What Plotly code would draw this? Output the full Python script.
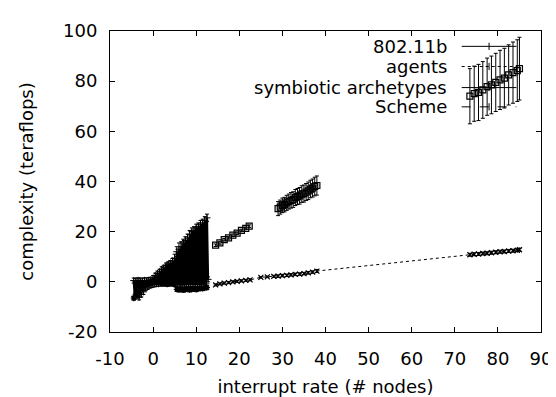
import plotly.graph_objects as go

# ---------------- data ----------------
# 802.11b : dense cluster near the origin (values alternate between upper and lower edge)
b_x = [-4.5, -4.25, -4.0, -3.75, -3.5, -3.25, -3.0, -2.75, -2.5, -2.25, -2.0, -1.75, -1.5, -1.25,
       -1.0, -0.75, -0.5, -0.25, 0.0, 0.25, 0.5, 0.75, 1.0, 1.25, 1.5, 1.75, 2.0, 2.25, 2.5, 2.75,
       3.0, 3.25, 3.5, 3.75, 4.0, 4.25, 4.5, 4.75, 5.0, 5.25, 5.5, 5.75, 6.0, 6.25, 6.5, 6.75,
       7.0, 7.25, 7.5, 7.75, 8.0, 8.25, 8.5, 8.75, 9.0, 9.25, 9.5, 9.75, 10.0, 10.25, 10.5, 10.75,
       11.0, 11.25, 11.5, 11.75, 12.0, 12.25, 12.5, 12.75]
b_y = [0.5, -6.0, 0.4, -5.5, 0.6, -6.2, 0.5, -5.0, 0.4, -4.0, 0.6, -2.5, 0.5, -2.0,
       0.7, -1.5, 0.8, -1.2, 1.5, -1.0, 2.5, -0.8, 3.3, -0.8, 4.0, -0.6, 5.0, -0.7, 5.6, -0.5,
       6.5, -0.8, 7.0, -0.6, 7.5, -0.5, 8.3, -0.7, 9.5, -1.0, 12.0, -1.2, 13.0, -1.0, 14.0, -1.3,
       15.5, -1.0, 16.5, -1.2, 17.5, -0.8, 19.0, -1.0, 20.0, -0.9, 20.5, -1.1, 21.5, -0.8, 22.0, -1.0,
       23.0, -0.9, 23.5, -1.0, 24.5, -0.8, 25.5, 1.0]
b_err = [1.0, 1.0, 1.0, 1.0, 1.0, 1.0, 1.0, 1.0, 1.0, 1.0, 1.0, 1.0, 1.0, 1.0,
         1.0, 1.0, 1.0, 1.0, 1.0, 1.0, 1.0, 1.0, 1.0, 1.0, 1.0, 1.0, 1.0, 1.0, 1.0, 1.0,
         1.0, 1.0, 1.0, 1.0, 1.0, 1.0, 1.0, 1.0, 1.5, 1.0, 2.0, 1.0, 2.5, 1.0, 2.0, 1.0,
         1.5, 1.0, 1.5, 1.0, 1.5, 1.0, 1.5, 1.0, 1.5, 1.0, 1.5, 1.0, 1.5, 1.0, 1.5, 1.0,
         1.5, 1.0, 1.5, 1.0, 1.5, 1.0, 1.5, 1.0]

# agents : long shallow series
a_x = [14.5, 15.5, 16.5, 17.5, 18.5, 19.5, 20.5, 21.5, 22.5, 25.0, 26.5, 28.0,
       29.0, 30.0, 31.0, 32.0, 33.0, 34.0, 35.0, 36.0, 37.0, 38.0,
       73.5, 74.5, 75.5, 76.5, 77.5, 78.5, 79.5, 80.5, 81.5, 82.5, 83.5, 84.5, 85.0]
a_y = [-1.2, -0.8, -0.5, -0.3, 0.0, 0.2, 0.4, 0.6, 0.8, 1.8, 2.0, 2.2,
       2.3, 2.5, 2.6, 2.8, 3.0, 3.1, 3.3, 3.6, 3.9, 4.3,
       10.8, 11.0, 11.1, 11.3, 11.4, 11.6, 11.8, 12.0, 12.1, 12.3, 12.4, 12.6, 12.8]
a_err = [0.4, 0.4, 0.4, 0.4, 0.4, 0.4, 0.4, 0.4, 0.4, 0.3, 0.3, 0.4,
         0.5, 0.5, 0.5, 0.5, 0.5, 0.5, 0.5, 0.5, 0.5, 0.6,
         0.6, 0.6, 0.6, 0.6, 0.6, 0.6, 0.6, 0.6, 0.6, 0.6, 0.6, 0.6, 0.6]

# symbiotic archetypes : steep series with growing error
s_x = [14.5, 15.5, 16.5, 17.5, 18.5, 19.5, 20.5, 21.5, 22.3,
       29.0, 29.5, 30.0, 30.5, 31.0, 31.5, 32.0, 32.5, 33.0, 33.5, 34.0, 34.5, 35.0, 35.5,
       36.0, 36.5, 37.0, 37.5, 38.0,
       73.5, 74.5, 75.5, 76.5, 77.5, 78.5, 79.5, 80.5, 81.5, 82.5, 83.5, 84.5, 85.0]
s_y = [14.6, 15.5, 16.8, 17.5, 18.6, 19.4, 20.5, 21.3, 22.2,
       29.2, 29.8, 30.5, 30.8, 31.5, 32.0, 32.5, 32.8, 33.6, 34.0, 34.3, 35.0, 35.2, 35.8,
       36.3, 37.0, 37.4, 38.0, 38.4,
       74.0, 75.0, 75.5, 76.5, 77.8, 78.5, 79.5, 80.5, 81.2, 82.5, 83.4, 84.2, 85.0]
s_err = [0.5, 0.5, 0.5, 0.5, 0.5, 0.5, 0.5, 0.5, 0.5,
         2.8, 2.8, 2.9, 2.9, 3.0, 3.0, 3.1, 3.1, 3.2, 3.2, 3.3, 3.3, 3.4, 3.4,
         3.5, 3.5, 3.6, 3.7, 3.8,
         11.0, 11.0, 11.2, 11.3, 11.4, 11.5, 11.6, 11.8, 11.9, 12.0, 12.2, 12.3, 12.5]

# Scheme : low cluster
c_x = [-4.5, -4.0, -3.5, -3.0, -2.5, -2.0, -1.5, -1.0, -0.5, 0.0, 1.0, 2.0, 3.0, 4.0, 5.0,
       5.5, 6.0, 6.5, 7.0, 7.5, 8.0, 8.5, 9.0, 9.5, 10.0, 10.5, 11.0, 11.5, 12.0, 12.5]
c_y = [-6.5, -5.0, -4.0, -2.5, -1.8, -1.2, -0.8, -0.5, -0.3, 0.0, -0.3, -0.5, -0.8, -0.7, -1.0,
       -3.0, -3.2, -3.0, -3.3, -3.1, -2.9, -3.2, -3.0, -2.8, -3.1, -2.8, -2.6, -2.7, -2.4, -2.3]
c_err = [0.8, 0.8, 0.8, 0.8, 0.8, 0.8, 0.8, 0.8, 0.8, 0.8, 0.8, 0.8, 0.8, 0.8, 0.8,
         0.8, 0.8, 0.8, 0.8, 0.8, 0.8, 0.8, 0.8, 0.8, 0.8, 0.8, 0.8, 0.8, 0.8, 0.8]

names = ["802.11b", "agents", "symbiotic archetypes", "Scheme"]
dashes = ["solid", "dot", "solid", "dash"]

x_tickvals = [-10, 0, 10, 20, 30, 40, 50, 60, 70, 80, 90]
x_ticktext = ["-10", "0", "10", "20", "30", "40", "50", "60", "70", "80", "90"]
y_tickvals = [-20, 0, 20, 40, 60, 80, 100]
y_ticktext = ["-20", "0", "20", "40", "60", "80", "100"]

FONT = "DejaVu Sans, Liberation Sans, Arial, sans-serif"
FS = 18

fig = go.Figure()


def err(arr):
    return dict(type="data", array=arr, visible=True, color="black", thickness=1, width=2)


fig.add_trace(go.Scatter(x=b_x, y=b_y, mode="lines+markers", showlegend=False,
                         line=dict(color="black", width=2.2, dash=dashes[0]),
                         marker=dict(symbol="cross-thin", size=5, line=dict(color="black", width=1)),
                         error_y=err(b_err)))
fig.add_trace(go.Scatter(x=a_x, y=a_y, mode="lines+markers", showlegend=False,
                         line=dict(color="black", width=1, dash=dashes[1]),
                         marker=dict(symbol="x-thin", size=5, line=dict(color="black", width=1.2)),
                         error_y=err(a_err)))
fig.add_trace(go.Scatter(x=s_x, y=s_y, mode="markers", showlegend=False,
                         marker=dict(symbol="square-open", size=6, color="black",
                                     line=dict(color="black", width=1.2)),
                         error_y=err(s_err)))
fig.add_trace(go.Scatter(x=c_x, y=c_y, mode="lines+markers", showlegend=False,
                         line=dict(color="black", width=1.2, dash=dashes[3]),
                         marker=dict(symbol="asterisk-open", size=5, line=dict(color="black", width=1.2)),
                         error_y=err(c_err)))

# ---------------- key (gnuplot style: text left, sample right) ----------------
key_y = [0.949, 0.882, 0.812, 0.748]
shapes = []
annotations = []
for nm, ds, ky in zip(names, dashes, key_y):
    annotations.append(dict(xref="paper", yref="paper", x=0.787, y=ky, text=nm,
                            showarrow=False, xanchor="right", yanchor="middle",
                            font=dict(family=FONT, size=FS, color="black")))
    shapes.append(dict(type="line", xref="paper", yref="paper", x0=0.816, x1=0.943,
                       y0=ky, y1=ky, line=dict(color="black", width=1, dash=ds)))
    shapes.append(dict(type="line", xref="paper", yref="paper", x0=0.8795, x1=0.8795,
                       y0=ky - 0.012, y1=ky + 0.012, line=dict(color="black", width=1)))

axis_common = dict(showgrid=False, zeroline=False, showline=True, linecolor="black",
                   linewidth=1, mirror="allticks", ticks="inside", ticklen=5,
                   tickcolor="black", tickwidth=1,
                   tickfont=dict(family=FONT, size=FS, color="black"))

fig.update_layout(
    width=556, height=397,
    margin=dict(l=102, r=13, t=21, b=64),
    paper_bgcolor="white", plot_bgcolor="white",
    font=dict(family=FONT, size=FS, color="black"),
    shapes=shapes, annotations=annotations,
    xaxis=dict(range=[-10, 90], tickmode="array", tickvals=x_tickvals, ticktext=x_ticktext,
               ticklabelstandoff=10,
               title=dict(text="interrupt rate (# nodes)", standoff=12,
                          font=dict(family=FONT, size=FS)),
               **axis_common),
    yaxis=dict(range=[-20, 100], tickmode="array", tickvals=y_tickvals, ticktext=y_ticktext,
               ticklabelstandoff=8,
               title=dict(text="complexity (teraflops)", standoff=24,
                          font=dict(family=FONT, size=FS)),
               **axis_common),
)

fig.write_html("out.html")
